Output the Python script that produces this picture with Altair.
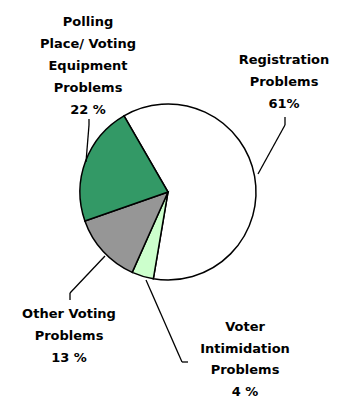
import math
import altair as alt
import pandas as pd

# ---- data ----
categories = [
    "Registration Problems",
    "Voter Intimidation Problems",
    "Other Voting Problems",
    "Polling Place/ Voting Equipment Problems",
]
values = [61, 4, 13, 22]
pct_labels = ["61%", "4 %", "13 %", "22 %"]
label_lines = [
    ["Registration", "Problems"],
    ["Voter", "Intimidation", "Problems"],
    ["Other Voting", "Problems"],
    ["Polling", "Place/ Voting", "Equipment", "Problems"],
]
colors = ["#FFFFFF", "#CCFFCC", "#969696", "#339966"]

# ---- layout (pixels) ----
W, H = 344, 400
CX, CY, R = 168, 192, 88
START = 2 * math.pi - math.radians(30)
label_anchor = [(284, 60), (245, 327), (69, 314), (88, 22)]
LINE_H = 22
leaders = [
    [(258, 174), (285, 125), (285, 117)],
    [(146, 280), (182, 362), (188, 362)],
    [(105, 256), (70, 293), (70, 300)],
    [(86, 162), (89, 125), (89, 119)],
]

pie_df = pd.DataFrame({"category": categories, "value": values, "idx": range(len(values))})

txt_rows = []
for i, lines in enumerate(label_lines):
    x0, y0 = label_anchor[i]
    all_lines = lines + [pct_labels[i]]
    for j, t in enumerate(all_lines):
        lh = LINE_H if i != 1 else 21.5
        txt_rows.append({"x": x0, "y": y0 + j * lh, "t": t})
txt_df = pd.DataFrame(txt_rows)

seg_rows = []
for pts in leaders:
    for a, b in zip(pts[:-1], pts[1:]):
        seg_rows.append({"x": a[0], "y": a[1], "x2": b[0], "y2": b[1]})
seg_df = pd.DataFrame(seg_rows)

pie = alt.Chart(pie_df).mark_arc(
    outerRadius=R, stroke="black", strokeWidth=1.5
).encode(
    theta=alt.Theta("value:Q", stack=True,
                    scale=alt.Scale(range=[START, START + 2 * math.pi])),
    order=alt.Order("idx:Q"),
    color=alt.Color("category:N", scale=alt.Scale(domain=categories, range=colors), legend=None),
    x=alt.value(CX),
    y=alt.value(CY),
)

lines_layer = alt.Chart(seg_df).mark_rule(color="black", strokeWidth=1.3).encode(
    x=alt.X("x:Q", scale=None),
    y=alt.Y("y:Q", scale=None),
    x2="x2:Q",
    y2="y2:Q",
)

text_layer = alt.Chart(txt_df).mark_text(
    font="DejaVu Sans", fontWeight="bold", fontSize=13, color="black",
    align="center", baseline="middle"
).encode(
    x=alt.X("x:Q", scale=None),
    y=alt.Y("y:Q", scale=None),
    text="t:N",
)

chart = alt.layer(pie, lines_layer, text_layer).properties(
    width=W, height=H, padding=0,
    autosize=alt.AutoSizeParams(type="none"),
).configure_view(stroke=None)

chart.save("out.html", embed_options={"renderer": "svg", "actions": False})
